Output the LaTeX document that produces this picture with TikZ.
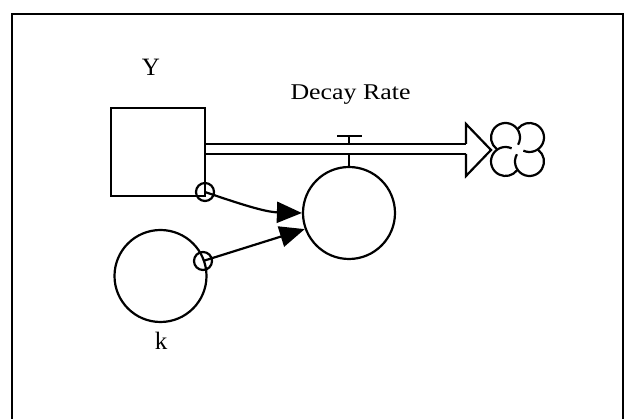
\documentclass[tikz,border=0pt]{standalone}
\usepackage{fontspec}
\setmainfont{Liberation Serif}
\newfontfamily\widefont[FakeStretch=1.15]{Liberation Serif}
\usetikzlibrary{arrows.meta}
\begin{document}
\begin{tikzpicture}[x=1pt,y=-1pt,line width=2.2pt,
  lbl/.style={inner sep=0pt,anchor=base,font=\fontsize{25}{30}\selectfont},
  ratelbl/.style={inner sep=0pt,anchor=base,font=\widefont\fontsize{22.5}{27}\selectfont},
  stockbox/.style={draw,rectangle,minimum width=94pt,minimum height=88pt,inner sep=0pt},
  auxcirc/.style={draw,circle,minimum size=92pt,inner sep=0pt},
  hub/.style={draw,circle,minimum size=18pt,inner sep=0pt},
  link/.style={-{Triangle[length=25pt,width=21pt]}},
  frameline/.style={line width=2.6pt}]
\useasboundingbox (0,0) rectangle (625,419);
% frame
\draw[frameline] (12,430) -- (12,14) -- (623,14) -- (623,430);
% stock
\node[stockbox] (stock) at (158,152) {};
\node[lbl] (ylbl) at (151,76) {Y};
% converters
\node[auxcirc] (rate) at (349,213) {};
\node[auxcirc] (k) at (160.5,276) {};
\node[lbl] (klbl) at (161,350) {k};
\node[ratelbl] (ratetext) at (350.5,100) {Decay Rate};
% hubs
\node[hub] (hubY) at (205,192) {};
\node[hub] (hubK) at (203,261) {};
% pipe
\coordinate (pt1) at (205,144);
\coordinate (pt2) at (466,144);
\coordinate (pb1) at (205,154);
\coordinate (pb2) at (466,154);
\draw (pt1) -- (pt2);
\draw (pb1) -- (pb2);
% flow arrowhead
\draw[line join=miter] (pt2) -- (466,124) -- (491,150) -- (466,176) -- (pb2);
% valve
\coordinate (vtop) at (349,136);
\draw (337,136) -- (362,136);
\draw (vtop) -- (349,144);
\draw (349,154) -- (rate.north);
% cloud
\begin{scope}[shift={(517.5,149.5)},yscale=-1,line width=2.2pt]
  \draw (-12,12) ++(-30:14.5) arc[start angle=-30,end angle=232,radius=14.5];
  \draw (12,12) ++(-115:14.5) arc[start angle=-115,end angle=142,radius=14.5];
  \draw (12,-12) ++(150:14.5) arc[start angle=150,end angle=412,radius=14.5];
  \draw (-12,-12) ++(65:14.5) arc[start angle=65,end angle=322,radius=14.5];
\end{scope}
% connectors
\draw[link] (hubY.center) .. controls (240,204) and (265,212) .. (rate.180);
\draw[link] (hubK.center) -- (rate.200);
\end{tikzpicture}
\end{document}
